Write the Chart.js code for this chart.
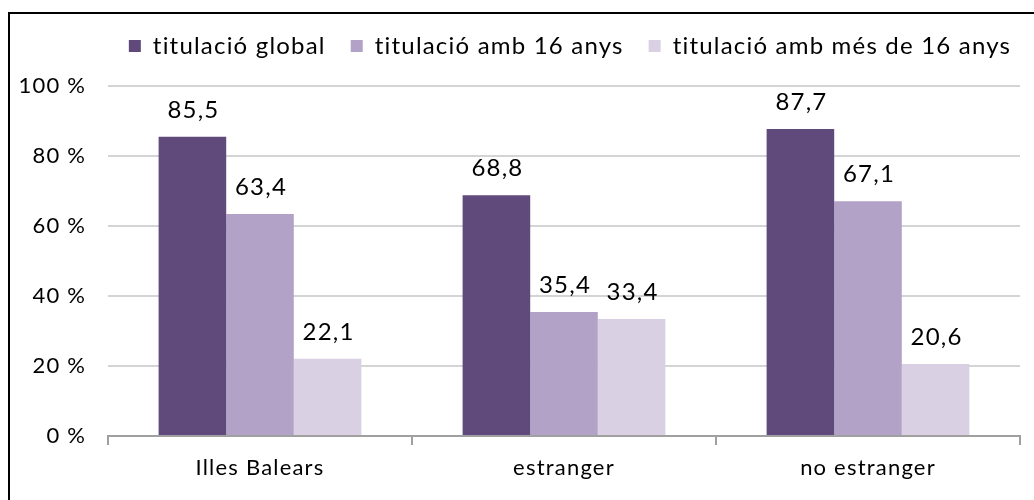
<!DOCTYPE html>
<html>
<head>
<meta charset="utf-8">
<script src="https://cdn.jsdelivr.net/npm/chart.js@4"></script>
<style>
  html, body { margin: 0; padding: 0; background: #fff; }
  #wrap { position: relative; width: 1034px; height: 500px; overflow: hidden; }
  #frame { position: absolute; left: 8px; top: 12px; width: 1040px; height: 500px; border: 2px solid #000; box-sizing: border-box; pointer-events: none; }
  canvas { position: absolute; left: 0; top: 0; }
</style>
</head>
<body>
<div id="wrap">
  <canvas id="barChart" width="1034" height="500"></canvas>
  <div id="frame"></div>
</div>
<script>
const categories = ['Illes Balears', 'estranger', 'no estranger'];
const seriesNames = ['titulació global', 'titulació amb 16 anys', 'titulació amb més de 16 anys'];
const global = [85.5, 68.8, 87.7];
const amb16 = [63.4, 35.4, 67.1];
const mes16 = [22.1, 33.4, 20.6];
const yTicks = [0, 20, 40, 60, 80, 100];

const colors = ['#604A7B', '#B3A2C7', '#D9D0E3'];
const FONT = 'Lato';

document.addEventListener('DOMContentLoaded', () => {
  const data = {
    labels: categories,
    datasets: [global, amb16, mes16].map((vals, i) => ({
      label: seriesNames[i],
      data: vals,
      backgroundColor: colors[i],
      borderWidth: 0,
      barPercentage: 1,
      categoryPercentage: 0.667
    }))
  };

  // the reference font is set a bit loose, so widen all text a little
  const spacing = {
    id: 'spacing',
    beforeUpdate(chart) { chart.ctx.letterSpacing = '1.2px'; },
    beforeDraw(chart) { chart.ctx.letterSpacing = '1.2px'; }
  };

  // value labels above the bars, decimal comma
  const valueLabels = {
    id: 'valueLabels',
    afterDatasetsDraw(chart) {
      const ctx = chart.ctx;
      ctx.save();
      ctx.font = '24px ' + FONT;
      ctx.fillStyle = '#000';
      ctx.textAlign = 'center';
      ctx.textBaseline = 'alphabetic';
      chart.data.datasets.forEach((ds, i) => {
        chart.getDatasetMeta(i).data.forEach((bar, j) => {
          ctx.fillText(ds.data[j].toFixed(1).replace('.', ','), bar.x + 1, bar.y - 19);
        });
      });
      ctx.restore();
    }
  };

  // legend height fixed, and legend centred a bit right of the canvas middle
  const legendBox = {
    id: 'legendBox',
    beforeInit(chart) {
      const fit = chart.legend.fit;
      chart.legend.fit = function () {
        fit.bind(chart.legend)();
        this.height = 77;
      };
    },
    afterLayout(chart) {
      chart.legend.left += 60;
      chart.legend.right += 60;
    }
  };

  const bargraph = document.getElementById('barChart').getContext('2d');

  let chart = new Chart(bargraph, {
    type: 'bar',
    data: data,
    plugins: [spacing, valueLabels, legendBox],
    options: {
      responsive: false,
      animation: false,
      layout: { padding: { left: 0, right: 14, top: 9, bottom: 0 } },
      plugins: {
        tooltip: { enabled: false },
        legend: {
          position: 'top',
          align: 'center',
          labels: {
            font: { family: FONT, size: 24 },
            color: '#000',
            boxWidth: 12,
            boxHeight: 12,
            padding: 25
          }
        }
      },
      scales: {
        x: {
          grid: {
            display: true,
            drawOnChartArea: false,
            drawTicks: true,
            tickLength: 9,
            color: '#A0A0A0',
            lineWidth: 2
          },
          border: { display: true, color: '#A0A0A0', width: 2 },
          ticks: {
            font: { family: FONT, size: 22 },
            color: '#000',
            padding: 10
          },
          afterFit(scale) { scale.height = 64; }
        },
        y: {
          min: 0,
          max: 100,
          afterBuildTicks(scale) { scale.ticks = yTicks.map(v => ({ value: v })); },
          grid: {
            color: '#D4D4D4',
            lineWidth: 2,
            drawTicks: false
          },
          border: { display: false },
          ticks: {
            font: { family: FONT, size: 22 },
            color: '#000',
            padding: 22,
            callback: v => v + ' %'
          },
          afterFit(scale) { scale.width = 108; }
        }
      }
    }
  });
});
</script>
</body>
</html>
